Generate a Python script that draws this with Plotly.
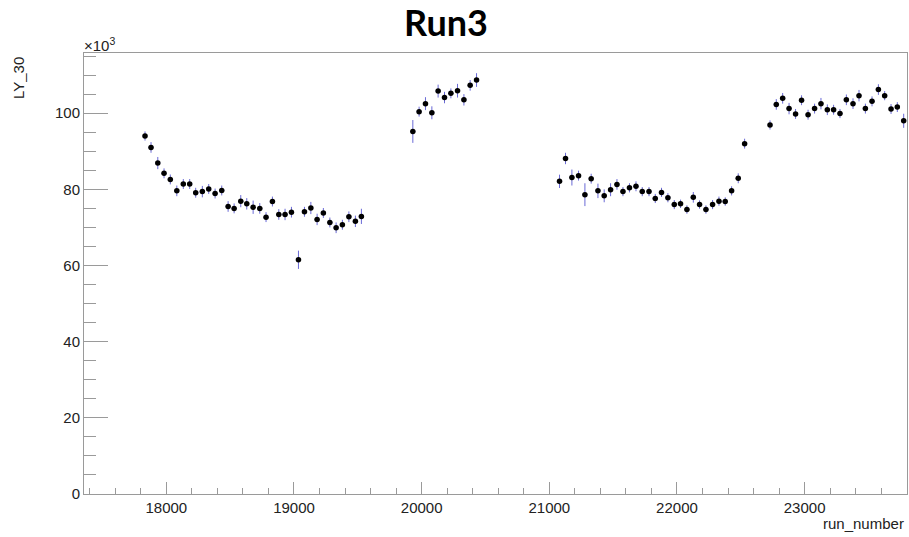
import plotly.graph_objects as go

# run numbers
run_number = [
    17833, 17880, 17933, 17982, 18031, 18082, 18133, 18183, 18230, 18282,
    18332, 18382, 18434, 18484, 18531, 18583, 18630, 18680, 18732, 18781,
    18831, 18881, 18930, 18980, 19035, 19082, 19132, 19181, 19230, 19281,
    19330, 19379, 19430, 19481, 19528,
    19931, 19980, 20030, 20080, 20129, 20179, 20229, 20281, 20331, 20380, 20430,
    21080, 21127, 21177, 21229, 21279, 21328, 21381, 21430, 21480, 21530,
    21577, 21628, 21679, 21728, 21781, 21830, 21879, 21929, 21979, 22028,
    22078, 22128, 22177, 22227, 22279, 22329, 22378, 22428, 22480, 22530,
    22729, 22778, 22828, 22878, 22929, 22976, 23027, 23078, 23128, 23178,
    23227, 23277, 23327, 23379, 23426, 23476, 23528, 23578, 23627, 23677,
    23726, 23776,
]

# LY_30 values (x10^3)
ly30 = [
    94.0, 91.0, 86.9, 84.2, 82.6, 79.6, 81.4, 81.4, 79.1, 79.4,
    80.1, 78.9, 79.7, 75.5, 75.0, 76.9, 76.2, 75.3, 75.0, 72.7,
    76.8, 73.4, 73.4, 74.0, 61.5, 74.1, 75.1, 72.1, 73.8, 71.3,
    69.9, 70.7, 72.8, 71.6, 72.9,
    95.2, 100.4, 102.5, 100.1, 105.8, 104.1, 105.2, 105.9, 103.5, 107.3, 108.7,
    82.1, 88.1, 83.1, 83.6, 78.6, 82.8, 79.6, 78.3, 79.9, 81.3,
    79.4, 80.4, 80.8, 79.4, 79.4, 77.6, 79.2, 77.8, 76.0, 76.2,
    74.7, 77.9, 76.0, 74.7, 76.0, 76.9, 76.8, 79.6, 82.9, 92.0,
    96.9, 102.3, 103.9, 101.2, 99.8, 103.4, 99.6, 101.2, 102.5, 100.9,
    100.9, 99.9, 103.5, 102.5, 104.6, 101.2, 103.1, 106.2, 104.6, 101.1,
    101.6, 98.0,
]

# errors on LY_30 (x10^3)
ly30_err = [
    1.2, 1.4, 1.6, 1.3, 1.3, 1.4, 1.3, 1.3, 1.3, 1.5,
    1.3, 1.3, 1.3, 1.4, 1.3, 1.6, 1.5, 1.75, 1.4, 1.3,
    1.3, 1.4, 1.5, 1.4, 2.4, 1.3, 1.6, 1.5, 1.3, 1.3,
    1.4, 1.3, 1.4, 1.5, 2.0,
    3.0, 1.3, 1.7, 1.7, 1.7, 1.5, 1.3, 1.8, 1.5, 1.4, 1.8,
    1.75, 1.5, 2.1, 1.3, 3.0, 1.3, 1.9, 1.7, 1.7, 1.4,
    1.2, 1.2, 1.3, 1.2, 1.2, 1.2, 1.2, 1.2, 1.2, 1.1,
    1.1, 1.4, 1.1, 1.1, 1.2, 1.2, 1.1, 1.2, 1.3, 1.3,
    1.2, 1.4, 1.4, 1.5, 1.3, 1.3, 1.3, 1.3, 1.5, 1.4,
    1.3, 1.2, 1.4, 1.4, 1.5, 1.3, 1.3, 1.4, 1.2, 1.3,
    1.3, 1.85,
]

run_err = [20] * len(run_number)

x_range = [17355, 23802]
y_range = [0, 115.8]

err_color = "#6a6ad6"
axis_color = "#9a9a9a"
font_fam = "Liberation Sans, Arial, sans-serif"

W, H = 909, 537
l, r, t, b = 84, 2, 53, 43
pw, ph = W - l - r, H - t - b


def px_x(x):
    return (x - l) / pw


def px_y(y):
    return (H - b - y) / ph


fig = go.Figure()
fig.add_trace(go.Scatter(
    x=run_number, y=ly30, mode="markers",
    marker=dict(color="black", size=5.5, symbol="circle"),
    error_y=dict(type="data", array=ly30_err, visible=True,
                 color=err_color, thickness=1, width=0),
    error_x=dict(type="data", array=run_err, visible=True,
                 color=err_color, thickness=1, width=0),
    showlegend=False,
))

fig.update_layout(
    width=W, height=H,
    margin=dict(l=l, r=r, t=t, b=b),
    paper_bgcolor="white", plot_bgcolor="white",
    font=dict(family=font_fam, size=15, color="#222222"),
    xaxis=dict(
        range=x_range, showgrid=False, zeroline=False,
        showline=True, mirror=True, linecolor=axis_color, linewidth=1,
        ticks="inside", ticklen=12, tickwidth=1, tickcolor=axis_color,
        tick0=0, dtick=1000, tickformat="d",
        minor=dict(ticks="inside", ticklen=6, tickcolor=axis_color, dtick=200, tick0=0, showgrid=False),
        tickfont=dict(size=15, family=font_fam, color="#222222"),
    ),
    yaxis=dict(
        range=y_range, showgrid=False, zeroline=False,
        showline=True, mirror=True, linecolor=axis_color, linewidth=1,
        ticks="inside", ticklen=24, tickwidth=1, tickcolor=axis_color,
        tick0=0, dtick=20,
        minor=dict(ticks="inside", ticklen=12, tickcolor=axis_color, dtick=5, tick0=0, showgrid=False),
        tickfont=dict(size=15, family=font_fam, color="#222222"),
    ),
    annotations=[
        dict(text="<b>Run3</b>", x=px_x(446), y=px_y(22), xref="paper", yref="paper",
             showarrow=False, font=dict(family="Lato, Open Sans, sans-serif", size=36, color="black"),
             xanchor="center", yanchor="middle"),
        dict(text="LY_30", x=px_x(19), y=px_y(55), xref="paper", yref="paper",
             showarrow=False, textangle=-90,
             font=dict(family=font_fam, size=15, color="#222222"),
             xanchor="center", yanchor="top"),
        dict(text="run_number", x=px_x(906), y=px_y(523), xref="paper", yref="paper",
             showarrow=False, font=dict(family=font_fam, size=15, color="#222222"),
             xanchor="right", yanchor="middle"),
        dict(text="×10<sup>3</sup>", x=px_x(82), y=px_y(45), xref="paper", yref="paper",
             showarrow=False, font=dict(family=font_fam, size=15, color="#222222"),
             xanchor="left", yanchor="middle"),
    ],
)

fig.write_html("out.html")
